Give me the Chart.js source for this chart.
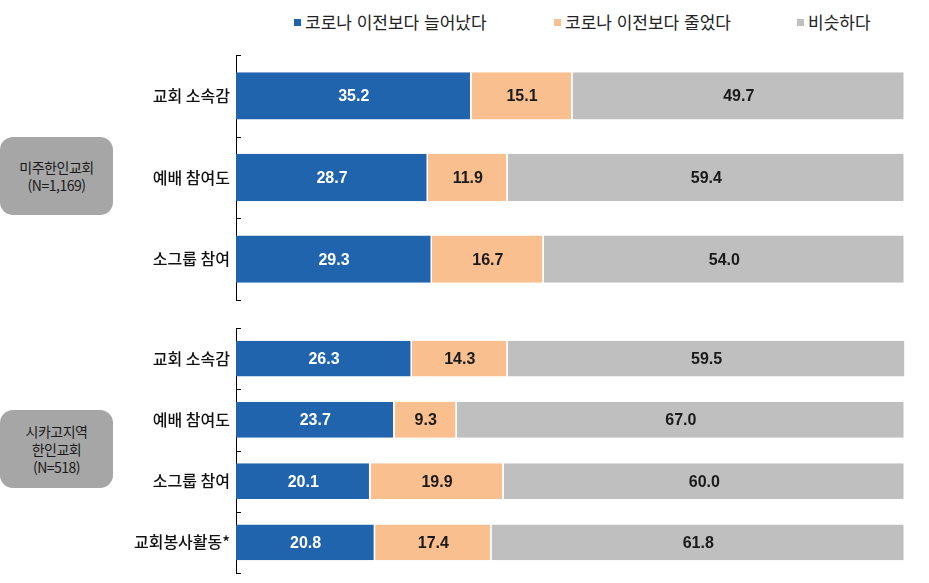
<!DOCTYPE html>
<html lang="ko">
<head>
    <meta charset="UTF-8">
    <title>코로나 이전 대비 변화</title>
    <script src="https://cdn.jsdelivr.net/npm/chart.js@4/dist/chart.umd.min.js"></script>
    <style>
        * { margin: 0; padding: 0; box-sizing: border-box; }
        body { background: #fff; width: 929px; height: 583px; position: relative; overflow: hidden; font-family: 'Noto Sans CJK KR', 'Noto Sans', sans-serif; }
        canvas { position: absolute; left: 0; }
        #topChart { top: 0; }
        #bottomChart { top: 310px; }
        .legend-item { position: absolute; top: 10px; font-size: 17px; color: #222; line-height: 24px; white-space: nowrap; }
        .legend-item i { position: absolute; left: -11px; top: 9px; width: 7px; height: 7px; }
        .group-box {
            position: absolute; left: 0; width: 113px; height: 78px;
            background: #a6a6a6; border-radius: 13px;
            display: flex; align-items: center; justify-content: center; text-align: center;
            font-size: 14px; line-height: 18px; color: #1a1a1a; letter-spacing: -0.5px;
        }
    </style>
</head>
<body>
    <div id="legend"></div>
    <div class="group-box" id="groupTop" style="top:137px"></div>
    <div class="group-box" id="groupBottom" style="top:410px"></div>
    <canvas id="topChart" width="929" height="310"></canvas>
    <canvas id="bottomChart" width="929" height="273"></canvas>

    <script>
        // Data
        const seriesNames = ['코로나 이전보다 늘어났다', '코로나 이전보다 줄었다', '비슷하다'];
        const seriesColors = ['#2064ae', '#f9bf8f', '#bfbfbf'];
        const labelColors = ['#ffffff', '#1a1a1a', '#1a1a1a'];

        const topGroup = ['미주한인교회', '(N=1,169)'];
        const topCategories = ['교회 소속감', '예배 참여도', '소그룹 참여'];
        const topIncreased = [35.2, 28.7, 29.3];
        const topDecreased = [15.1, 11.9, 16.7];
        const topSimilar = [49.7, 59.4, 54.0];

        const bottomGroup = ['시카고지역', '한인교회', '(N=518)'];
        const bottomCategories = ['교회 소속감', '예배 참여도', '소그룹 참여', '교회봉사활동*'];
        const bottomIncreased = [26.3, 23.7, 20.1, 20.8];
        const bottomDecreased = [14.3, 9.3, 19.9, 17.4];
        const bottomSimilar = [59.5, 67.0, 60.0, 61.8];

        // Legend (html)
        const legendX = [305, 565, 808];
        const legend = document.getElementById('legend');
        seriesNames.forEach((name, i) => {
            const div = document.createElement('div');
            div.className = 'legend-item';
            div.style.left = legendX[i] + 'px';
            div.innerHTML = `<i style="background:${seriesColors[i]}"></i>${name}`;
            legend.appendChild(div);
        });

        document.getElementById('groupTop').innerHTML = topGroup.join('<br>');
        document.getElementById('groupBottom').innerHTML = bottomGroup.join('<br>');

        // small inward tick marks on the category axis
        const innerTicks = {
            id: 'innerTicks',
            afterDraw(chart) {
                const y = chart.scales.y;
                const ctx = chart.ctx;
                const n = y.getLabels().length;
                const step = (y.getPixelForValue(1) - y.getPixelForValue(0));
                ctx.save();
                ctx.strokeStyle = '#000';
                ctx.lineWidth = 1;
                for (let i = 0; i <= n; i++) {
                    const py = Math.round(y.getPixelForValue(0) - step / 2 + i * step) + 0.5;
                    ctx.beginPath();
                    ctx.moveTo(y.right, py);
                    ctx.lineTo(y.right + 5, py);
                    ctx.stroke();
                }
                ctx.restore();
            }
        };

        // value labels centred in each segment
        const valueLabels = {
            id: 'valueLabels',
            afterDatasetsDraw(chart) {
                const ctx = chart.ctx;
                ctx.save();
                ctx.font = 'bold 16px "Liberation Sans", Arial, sans-serif';
                ctx.textAlign = 'center';
                ctx.textBaseline = 'middle';
                chart.data.datasets.forEach((ds, i) => {
                    chart.getDatasetMeta(i).data.forEach((bar, j) => {
                        ctx.fillStyle = labelColors[i];
                        ctx.fillText(ds.data[j].toFixed(1), (bar.x + bar.base) / 2, bar.y + 1);
                    });
                });
                ctx.restore();
            }
        };

        function makeChart(id, categories, values, padTop, padBottom) {
            return new Chart(document.getElementById(id), {
                type: 'bar',
                data: {
                    labels: categories,
                    datasets: values.map((v, i) => ({
                        label: seriesNames[i],
                        data: v,
                        backgroundColor: seriesColors[i],
                        borderColor: '#ffffff',
                        borderWidth: { left: 0, right: 1.5, top: 0, bottom: 0 },
                        borderSkipped: false,
                        categoryPercentage: 1,
                        barPercentage: 0.58
                    }))
                },
                options: {
                    indexAxis: 'y',
                    responsive: false,
                    animation: false,
                    layout: { padding: { top: padTop, bottom: padBottom, right: 24, left: 0 } },
                    plugins: { legend: { display: false }, tooltip: { enabled: false } },
                    scales: {
                        x: { stacked: true, min: 0, max: 100, display: false },
                        y: {
                            stacked: true,
                            grid: { display: false, drawTicks: false },
                            border: { display: true, color: '#000', width: 1 },
                            ticks: {
                                padding: 6,
                                color: '#111',
                                font: { family: "'Noto Sans CJK KR', sans-serif", size: 16, weight: '500' }
                            },
                            afterFit(scale) {
                                scale.width = 236;
                                scale.paddingTop = 0;
                                scale.paddingBottom = 0;
                            }
                        }
                    }
                },
                plugins: [innerTicks, valueLabels]
            });
        }

        makeChart('topChart', topCategories, [topIncreased, topDecreased, topSimilar], 55, 10);
        makeChart('bottomChart', bottomCategories, [bottomIncreased, bottomDecreased, bottomSimilar], 18, 10);
    </script>
</body>
</html>
